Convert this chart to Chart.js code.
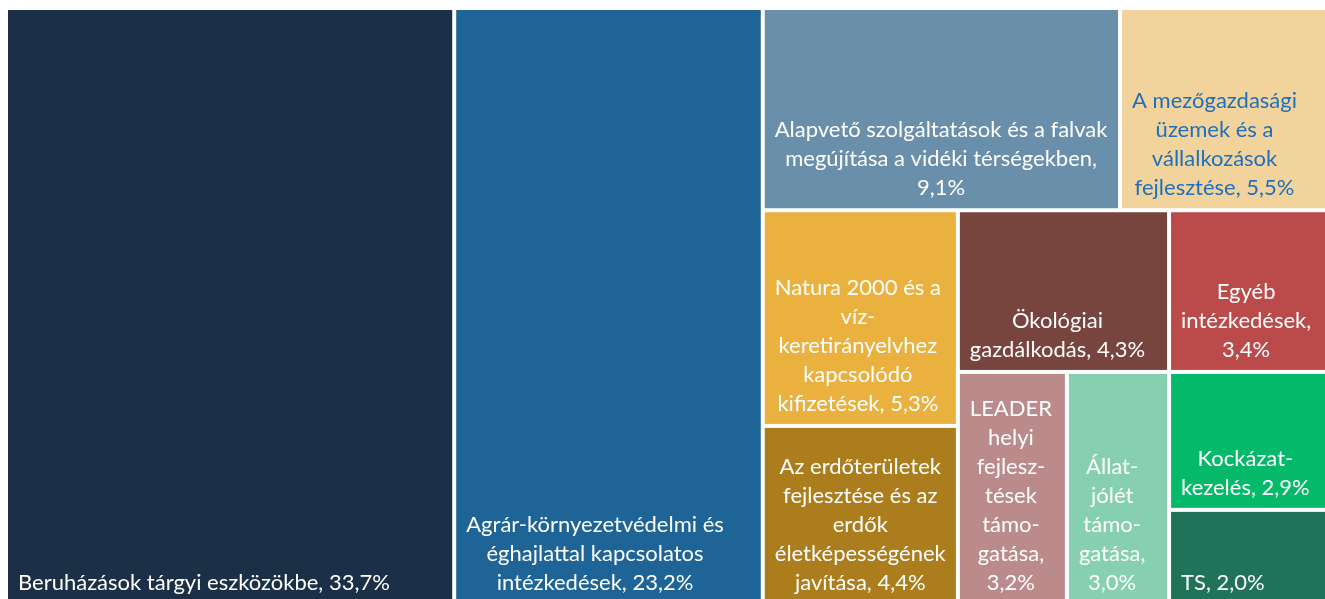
<!DOCTYPE html>
<html>
<head>
<meta charset="utf-8">
<script src="https://cdn.jsdelivr.net/npm/chart.js@4.4.1/dist/chart.umd.min.js"></script>
<style>
    html, body { margin: 0; padding: 0; background: #fff; overflow: hidden; }
    #wrap { position: absolute; left: 0; top: 0; width: 1345px; height: 606px; }
</style>
</head>
<body>
<div id="wrap"><canvas id="treemap"></canvas></div>
<script>
// Names with the line breaks used in the picture; the share is appended at draw time
var categories = [
    'Beruházások tárgyi eszközökbe, ',
    'Agrár-környezetvédelmi és\néghajlattal kapcsolatos\nintézkedések, ',
    'Alapvető szolgáltatások és a falvak\nmegújítása a vidéki térségekben,\n',
    'A mezőgazdasági\nüzemek és a\nvállalkozások\nfejlesztése, ',
    'Natura 2000 és a\nvíz-\nkeretirányelvhez\nkapcsolódó\nkifizetések, ',
    'Az erdőterületek\nfejlesztése és az\nerdők\néletképességének\njavítása, ',
    'Ökológiai\ngazdálkodás, ',
    'Egyéb\nintézkedések,\n',
    'LEADER\nhelyi\nfejlesz-\ntések\ntámo-\ngatása,\n',
    'Állat-\njólét\ntámo-\ngatása,\n',
    'Kockázat-\nkezelés, ',
    'TS, '
];
var shares = [33.7, 23.2, 9.1, 5.5, 5.3, 4.4, 4.3, 3.4, 3.2, 3.0, 2.9, 2.0];

// how many consecutive cells share one strip of the layout
var strips = [1, 1, 2, 2, 2, 1, 1, 1, 1];

var colors = ['#1b3047', '#1e6496', '#6a8fab', '#f3d39c', '#ebb13f', '#ab7d1c',
              '#77453e', '#bb4b4b', '#bb8a8a', '#86d0b0', '#05b96a', '#1f7358'];
var textColors = ['#fff', '#fff', '#fff', '#1f6fba', '#fff', '#fff',
                  '#fff', '#fff', '#fff', '#fff', '#fff', '#fff'];

function fmt(v) { return v.toFixed(1).replace('.', ',') + '%'; }

// squarified-style strips in data units (0..1 on both axes)
function layout(aspect) {
    var rect = { x: 0, y: 0, w: 1, h: 1 };
    var left = shares.reduce(function (a, b) { return a + b; }, 0);
    var cells = [];
    var idx = 0;
    strips.forEach(function (n) {
        var items = shares.slice(idx, idx + n);
        var s = items.reduce(function (a, b) { return a + b; }, 0);
        var frac = s / left;
        if (rect.w * aspect >= rect.h) {
            var sw = rect.w * frac, cy = rect.y;
            items.forEach(function (v) {
                var hh = rect.h * v / s;
                cells.push({ x0: rect.x, x1: rect.x + sw, y0: cy, y1: cy + hh });
                cy += hh;
            });
            rect.x += sw; rect.w -= sw;
        } else {
            var sh = rect.h * frac, cx = rect.x;
            items.forEach(function (v) {
                var ww = rect.w * v / s;
                cells.push({ x0: cx, x1: cx + ww, y0: rect.y, y1: rect.y + sh });
                cx += ww;
            });
            rect.y += sh; rect.h -= sh;
        }
        left -= s;
        idx += n;
    });
    return cells;
}

var treemapCells = {
    id: 'treemapCells',
    afterDatasetsDraw: function (chart) {
        var ctx = chart.ctx, xs = chart.scales.x, ys = chart.scales.y, ca = chart.chartArea;
        var cells = layout(ca.width / ca.height);
        var gap = 2;
        ctx.save();
        cells.forEach(function (c, i) {
            var l = xs.getPixelForValue(c.x0) + gap, r = xs.getPixelForValue(c.x1) - gap;
            var t = ys.getPixelForValue(c.y0) + gap, b = ys.getPixelForValue(c.y1) - gap;
            ctx.fillStyle = colors[i];
            ctx.fillRect(l, t, r - l, b - t);

            var lines = (categories[i] + fmt(shares[i])).split('\n');
            ctx.font = '22px Lato';
            ctx.fillStyle = textColors[i];
            ctx.textAlign = 'center';
            ctx.textBaseline = 'middle';
            var maxW = 0;
            lines.forEach(function (ln) { maxW = Math.max(maxW, ctx.measureText(ln).width); });
            var cx = Math.min(l + 10 + maxW / 2, (l + r) / 2);
            var lineH = 29;
            var y = b - 20 - (lines.length - 1) * lineH;
            lines.forEach(function (ln) {
                ctx.fillText(ln, cx, y);
                y += lineH;
            });
        });
        ctx.restore();
    }
};

new Chart(document.getElementById('treemap'), {
    type: 'scatter',
    data: { datasets: [{ data: [] }] },
    options: {
        responsive: true,
        maintainAspectRatio: false,
        animation: false,
        layout: { padding: { left: 6, top: 8, right: 9, bottom: 1 } },
        scales: {
            x: { type: 'linear', min: 0, max: 1, display: false },
            y: { type: 'linear', min: 0, max: 1, reverse: true, display: false }
        },
        plugins: { legend: { display: false }, tooltip: { enabled: false } }
    },
    plugins: [treemapCells]
});
</script>
</body>
</html>
